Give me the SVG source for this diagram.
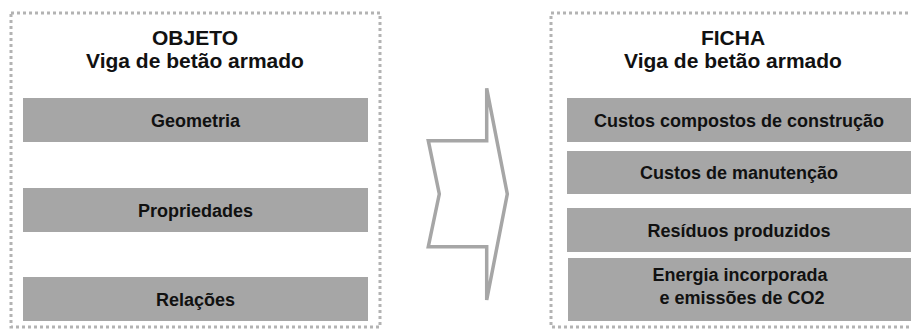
<svg xmlns="http://www.w3.org/2000/svg" width="911" height="334" viewBox="0 0 911 334">
<style>
.frame{fill:none;stroke:#b3b3b3;stroke-width:3;stroke-dasharray:3 3}
.bar{fill:#a6a6a6}
.t{font-family:"Liberation Sans",Arial,sans-serif;font-weight:bold;fill:#111;text-anchor:middle}
.title{font-size:21px}
.lbl{font-size:18px}
.arrow{fill:#fff;stroke:#a6a6a6;stroke-width:3.5;stroke-linejoin:miter}
</style>
<rect width="911" height="334" fill="#fff"/>
<g id="objeto">
<rect class="frame" x="11" y="13" width="369" height="314"/>
<text class="t title" x="195" y="45">OBJETO</text>
<text class="t title" x="195" y="68">Viga de betão armado</text>
</g>
<g id="geometria">
<rect class="bar" x="23" y="98" width="345" height="44"/>
<text class="t lbl" x="195.5" y="126.5">Geometria</text>
</g>
<g id="propriedades">
<rect class="bar" x="23" y="188" width="345" height="44"/>
<text class="t lbl" x="195.5" y="216.5">Propriedades</text>
</g>
<g id="relacoes">
<rect class="bar" x="23" y="277" width="345" height="44"/>
<text class="t lbl" x="195.5" y="305.5">Relações</text>
</g>
<g id="connectors">
<polygon class="arrow" points="486.7,88.3 486.7,140.7 428.3,140.7 439.3,194 428.3,246.7 486.7,246.7 486.7,300 507.3,194"/>
</g>
<g id="ficha">
<rect class="frame" x="551" y="13" width="400" height="314"/>
<text class="t title" x="733" y="45">FICHA</text>
<text class="t title" x="733" y="68">Viga de betão armado</text>
</g>
<g id="custos-construcao">
<rect class="bar" x="567" y="98" width="344" height="44"/>
<text class="t lbl" x="739" y="126.5">Custos compostos de construção</text>
</g>
<g id="custos-manutencao">
<rect class="bar" x="567" y="151" width="344" height="43"/>
<text class="t lbl" x="739" y="179">Custos de manutenção</text>
</g>
<g id="residuos">
<rect class="bar" x="567" y="208" width="344" height="44"/>
<text class="t lbl" x="739" y="236.5">Resíduos produzidos</text>
</g>
<g id="energia">
<rect class="bar" x="568" y="258" width="343" height="63"/>
<text class="t lbl" x="740" y="281">Energia incorporada</text>
<text class="t lbl" x="742" y="304">e emissões de CO2</text>
</g>
</svg>
